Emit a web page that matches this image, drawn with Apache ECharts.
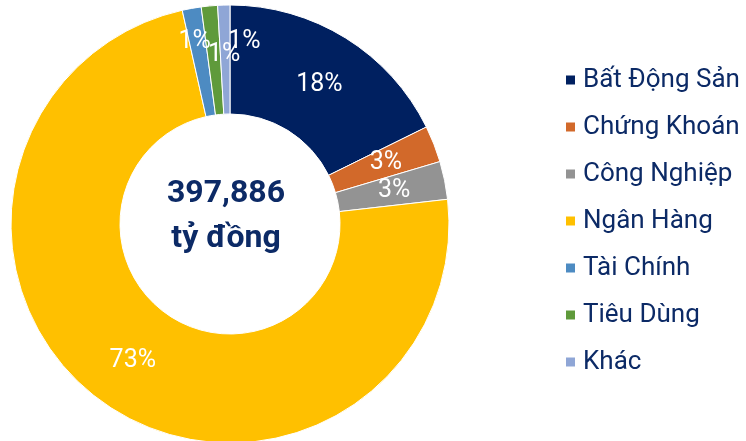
<!DOCTYPE html>
<html>
<head>
<meta charset="utf-8">
<style type="text/css">
html,body{margin:0;padding:0;background:#fff;}
.charts{width: 746px; height: 441px;}
</style>
</head>
<body>
<div class="charts" id="main"></div>
<script src="https://cdn.jsdelivr.net/npm/echarts@6/dist/echarts.min.js"></script>
<script type="text/javascript">
var categories = ['Bất Động Sản', 'Chứng Khoán', 'Công Nghiệp', 'Ngân Hàng', 'Tài Chính', 'Tiêu Dùng', 'Khác'];
var shares = [17.7, 2.7, 2.8, 73.3, 1.4, 1.2, 0.9];
var colors = ['#002060', '#d2692a', '#939393', '#ffc000', '#4d8bc2', '#5f9a3b', '#8fa6d6'];
var totalText = '397,886';
var unitText = 'tỷ đồng';

// small slices need a nudge so labels do not pile up
var labelOffsets = [[1, 3], null, null, null, [-6, -17], [10, -2], [19, -15]];

var chart = echarts.init(document.getElementById('main'));
var data = categories.map(function (name, i) {
    var item = {name: name, value: shares[i], itemStyle: {color: colors[i]}};
    if (labelOffsets[i]) item.label = {offset: labelOffsets[i]};
    return item;
});

var option = {
    animation: false,
    textStyle: {fontFamily: 'Roboto'},
    legend: {
        orient: 'vertical',
        left: 559,
        top: 60,
        itemWidth: 11,
        itemHeight: 11,
        itemGap: 17,
        icon: 'rect',
        textStyle: {fontSize: 26, lineHeight: 30, color: '#0c2a66', fontFamily: 'Roboto', padding: [0, 0, 0, 2]},
        data: categories
    },
    graphic: [{
        type: 'text',
        x: 226,
        y: 216,
        style: {
            text: totalText + '\n' + unitText,
            fill: '#0c2a66',
            font: 'bold 32px Roboto',
            align: 'center',
            verticalAlign: 'middle',
            lineHeight: 45
        }
    }],
    series: [{
        type: 'pie',
        center: [230, 224],
        radius: [110, 219],
        startAngle: 90,
        clockwise: true,
        avoidLabelOverlap: false,
        itemStyle: {borderColor: '#fff', borderWidth: 1},
        label: {
            show: true,
            position: 'inside',
            color: '#fff',
            fontSize: 25,
            fontFamily: 'Roboto',
            formatter: function (p) { return Math.round(p.value) + '%'; }
        },
        labelLayout: {hideOverlap: false},
        labelLine: {show: false},
        data: data
    }]
};
chart.setOption(option);
</script>
</body>
</html>
